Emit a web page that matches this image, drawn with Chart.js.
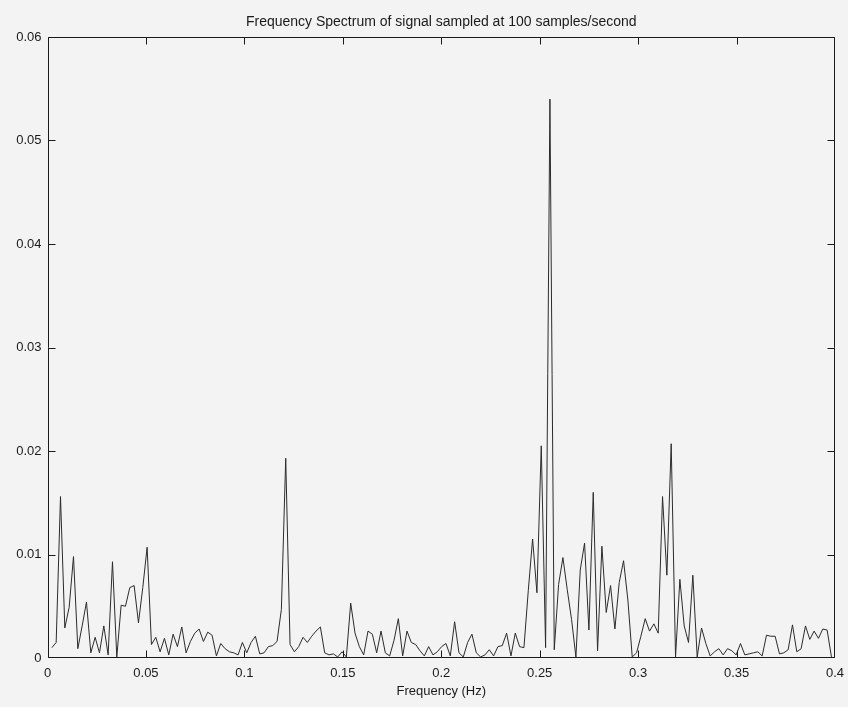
<!DOCTYPE html>
<html>
<head>
<meta charset="utf-8">
<script src="https://cdn.jsdelivr.net/npm/chart.js@4.4.1/dist/chart.umd.min.js"></script>
<style>
  html, body { margin: 0; padding: 0; background: #f3f3f3; }
  #wrap { width: 848px; height: 707px; }
</style>
</head>
<body>
<div id="wrap"><canvas id="c" width="848" height="707"></canvas></div>
<script>
// ---- data ----
const titleText = 'Frequency Spectrum of signal sampled at 100 samples/second';
const xAxisLabel = 'Frequency (Hz)';
const binWidthHz = 0.0022;          // spacing of the spectrum bins (Hz)
const firstBin = 1;                 // first plotted bin index
const amplitude = [
  0.0010, 0.0015, 0.0156, 0.0029, 0.0049, 0.0098, 0.0009, 0.0031, 0.0054, 0.0005,
  0.0020, 0.0005, 0.0031, 0.0003, 0.0093, 0.0001, 0.0051, 0.0050, 0.0068, 0.0070,
  0.0034, 0.0068, 0.0107, 0.0013, 0.0020, 0.0006, 0.0019, 0.0003, 0.0023, 0.0011,
  0.0030, 0.0005, 0.0016, 0.0024, 0.0028, 0.0016, 0.0025, 0.0022, 0.0002, 0.0014,
  0.0009, 0.0006, 0.0005, 0.0003, 0.0015, 0.0005, 0.0015, 0.0021, 0.0004, 0.0005,
  0.0011, 0.0012, 0.0016, 0.0047, 0.0193, 0.0013, 0.0006, 0.0011, 0.0020, 0.0015,
  0.0021, 0.0026, 0.0030, 0.0005, 0.0003, 0.0004, 0.0001, 0.0006, 0.0001, 0.0053,
  0.0024, 0.0011, 0.0003, 0.0026, 0.0023, 0.0005, 0.0026, 0.0005, 0.0002, 0.0017,
  0.0038, 0.0002, 0.0026, 0.0015, 0.0013, 0.0007, 0.0002, 0.0011, 0.0003, 0.0006,
  0.0011, 0.0014, 0.0002, 0.0035, 0.0005, 0.0001, 0.0015, 0.0023, 0.0005, 0.0001,
  0.0003, 0.0008, 0.0002, 0.0011, 0.0012, 0.0024, 0.0002, 0.0024, 0.0011, 0.0010,
  0.0065, 0.0115, 0.0063, 0.0205, 0.0010, 0.0540, 0.0008, 0.0071, 0.0097, 0.0066,
  0.0037, 0.0001, 0.0085, 0.0111, 0.0027, 0.0160, 0.0007, 0.0108, 0.0044, 0.0070,
  0.0028, 0.0073, 0.0094, 0.0056, 0.0001, 0.0005, 0.0021, 0.0038, 0.0026, 0.0033,
  0.0024, 0.0156, 0.0080, 0.0207, 0.0001, 0.0076, 0.0031, 0.0015, 0.0080, 0.0001,
  0.0029, 0.0014, 0.0002, 0.0006, 0.0009, 0.0003, 0.0009, 0.0007, 0.0003, 0.0014,
  0.0003, 0.0004, 0.0005, 0.0006, 0.0002, 0.0022, 0.0021, 0.0021, 0.0004, 0.0005,
  0.0008, 0.0032, 0.0006, 0.0009, 0.0031, 0.0018, 0.0026, 0.0019, 0.0028, 0.0027,
  0.0001
];
const xTickValues = [0, 0.05, 0.1, 0.15, 0.2, 0.25, 0.3, 0.35, 0.4];
const yTickValues = [0, 0.01, 0.02, 0.03, 0.04, 0.05, 0.06];

// ---- build points for the library ----
const points = amplitude.map((v, i) => ({ x: (firstBin + i) * binWidthHz, y: v }));

const fmt = v => String(parseFloat(Number(v).toFixed(3)));
const FONT = "'Liberation Sans', Arial, sans-serif";
const INK = '#1a1a1a';

const frameTicks = {
  id: 'frameTicks',
  afterDatasetsDraw(chart) {
    const { ctx, chartArea: a, scales: { x, y } } = chart;
    const L = 7;
    ctx.save();
    ctx.strokeStyle = INK;
    ctx.lineWidth = 1;
    ctx.beginPath();
    const l = Math.round(a.left) + 0.5, r = Math.round(a.right) - 0.5;
    const t = Math.round(a.top) + 0.5, b = Math.round(a.bottom) - 0.5;
    ctx.rect(l, t, r - l, b - t);
    xTickValues.forEach(v => {
      const px = Math.min(r, Math.max(l, Math.round(x.getPixelForValue(v)) + 0.5));
      ctx.moveTo(px, b); ctx.lineTo(px, b - L);
      ctx.moveTo(px, t); ctx.lineTo(px, t + L);
    });
    yTickValues.forEach(v => {
      const py = Math.min(b, Math.max(t, Math.round(y.getPixelForValue(v)) + 0.5));
      ctx.moveTo(l, py); ctx.lineTo(l + L, py);
      ctx.moveTo(r, py); ctx.lineTo(r - L, py);
    });
    ctx.stroke();
    ctx.restore();
  }
};

new Chart(document.getElementById('c'), {
  type: 'line',
  data: {
    datasets: [{
      data: points,
      borderColor: '#2b2b2b',
      borderWidth: 1,
      pointRadius: 0,
      tension: 0,
      fill: false,
      xAxisID: 'x',
      yAxisID: 'y'
    }]
  },
  options: {
    responsive: false,
    animation: false,
    devicePixelRatio: 1,
    layout: { padding: { left: 0, right: 13, top: 0, bottom: 0 } },
    plugins: {
      legend: { display: false },
      tooltip: { enabled: false },
      title: { display: false }
    },
    scales: {
      x: {
        type: 'linear',
        position: 'bottom',
        min: 0, max: 0.4,
        afterBuildTicks: s => { s.ticks = xTickValues.map(v => ({ value: v })); },
        afterFit: s => { s.height = 49; s.paddingLeft = 0; s.paddingRight = 0; },
        grid: { display: false, drawTicks: false },
        border: { display: false },
        ticks: {
          padding: 8,
          color: INK,
          font: { family: FONT, size: 13 },
          maxRotation: 0,
          autoSkip: false,
          callback: v => fmt(v)
        },
        title: {
          display: true,
          text: xAxisLabel,
          color: INK,
          font: { family: FONT, size: 13 },
          padding: { top: 0, bottom: 8 }
        }
      },
      xTop: {
        type: 'linear',
        position: 'top',
        min: 0, max: 0.4,
        afterFit: s => { s.height = 37; s.paddingLeft = 0; s.paddingRight = 0; },
        grid: { display: false, drawTicks: false },
        border: { display: false },
        ticks: { display: false },
        title: {
          display: true,
          text: titleText,
          color: INK,
          font: { family: FONT, size: 14 },
          padding: { top: 14, bottom: 0 }
        }
      },
      y: {
        type: 'linear',
        min: 0, max: 0.06,
        afterBuildTicks: s => { s.ticks = yTickValues.map(v => ({ value: v })); },
        afterFit: s => { s.width = 47.5; },
        grid: { display: false, drawTicks: false },
        border: { display: false },
        ticks: {
          padding: 6,
          color: INK,
          font: { family: FONT, size: 13 },
          autoSkip: false,
          callback: v => fmt(v)
        }
      }
    }
  },
  plugins: [frameTicks]
});
</script>
</body>
</html>
